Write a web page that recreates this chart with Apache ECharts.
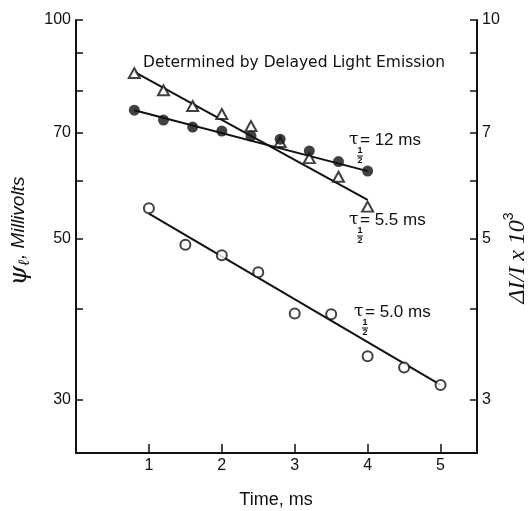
<!DOCTYPE html>
<html>
<head>
<meta charset="utf-8">
<script src="https://cdn.jsdelivr.net/npm/echarts@6/dist/echarts.min.js"></script>
<style>
  html, body { margin: 0; padding: 0; background: #fff; }
  #chart { width: 529px; height: 511px; }
</style>
</head>
<body>
<div id="chart"></div>
<script>
// open triangles (delayed light emission, tau 5.5 ms)
var triTime = [0.8, 1.2, 1.6, 2.0, 2.4, 2.8, 3.2, 3.6, 4.0];
var triValue = [84.5, 80.0, 76.1, 74.2, 71.4, 67.9, 64.5, 60.8, 55.3];
// filled circles (tau 12 ms)
var dotTime = [0.8, 1.2, 1.6, 2.0, 2.4, 2.8, 3.2, 3.6, 4.0];
var dotValue = [75.1, 72.8, 71.2, 70.3, 69.2, 68.5, 66.0, 63.8, 61.9];
// open circles (tau 5.0 ms)
var ringTime = [1.0, 1.5, 2.0, 2.5, 3.0, 3.5, 4.0, 4.5, 5.0];
var ringValue = [55.0, 49.0, 47.4, 44.9, 39.4, 39.3, 34.4, 33.2, 31.4];
// fitted straight lines (end points)
var triFitTime = [0.8, 4.0];
var triFitValue = [84.8, 56.5];
var dotFitTime = [0.8, 4.0];
var dotFitValue = [75.1, 61.9];
var ringFitTime = [1.0, 5.0];
var ringFitValue = [54.1, 31.4];

var xTicks = [1, 2, 3, 4, 5];
var leftTicks = [30, 40, 50, 60, 70, 80, 90, 100];
var leftLabels = [30, 50, 70, 100];
var rightTicks = [3, 4, 5, 6, 7, 8, 9, 10];
var rightLabels = [3, 5, 7, 10];

var ink = "#111";
var numFont = "Liberation Sans";

function pairs(xs, ys) {
  return xs.map(function (x, i) { return [x, ys[i]]; });
}

// tau with a stacked 1/2 subscript, then "= .. ms"
function tauLabel(x, y, txt) {
  return {
    type: "group", x: x, y: y,
    children: [
      { type: "text", x: 0, y: 0, style: { text: "τ", font: "17px 'DejaVu Serif'", fill: ink, align: "left", verticalAlign: "middle" } },
      { type: "text", x: 11, y: 11, style: { text: "1", font: "bold 9px " + numFont, fill: ink, align: "center", verticalAlign: "middle" } },
      { type: "line", shape: { x1: 8, y1: 16, x2: 14, y2: 16 }, style: { stroke: ink, lineWidth: 1 } },
      { type: "text", x: 11, y: 21, style: { text: "2", font: "bold 9px " + numFont, fill: ink, align: "center", verticalAlign: "middle" } },
      { type: "text", x: 11, y: 0, style: { text: txt, font: "17px " + numFont, fill: ink, align: "left", verticalAlign: "middle" } }
    ]
  };
}

var chart = echarts.init(document.getElementById("chart"));

var tickStyle = { color: ink, width: 1.5 };
var labelStyle = { color: ink, fontSize: 16, fontFamily: numFont };

chart.setOption({
  animation: false,
  backgroundColor: "#fff",
  grid: { left: 76, right: 52, top: 20, bottom: 58 },
  xAxis: {
    type: "value", min: 0, max: 5.5,
    axisLine: { show: true, onZero: false, lineStyle: { color: ink, width: 2 } },
    axisTick: { show: true, inside: true, length: 9, customValues: xTicks, lineStyle: tickStyle },
    axisLabel: Object.assign({ customValues: xTicks, margin: 5 }, labelStyle),
    splitLine: { show: false }
  },
  yAxis: [
    {
      type: "log", min: 25.3, max: 100, position: "left",
      axisLine: { show: true, lineStyle: { color: ink, width: 2 } },
      axisTick: { show: true, inside: true, length: 7, customValues: leftTicks, lineStyle: tickStyle },
      axisLabel: Object.assign({ customValues: leftLabels, margin: 5 }, labelStyle),
      minorTick: { show: false },
      splitLine: { show: false }
    },
    {
      type: "log", min: 2.53, max: 10, position: "right",
      axisLine: { show: true, lineStyle: { color: ink, width: 2 } },
      axisTick: { show: true, inside: true, length: 7, customValues: rightTicks, lineStyle: tickStyle },
      axisLabel: Object.assign({ customValues: rightLabels, margin: 5 }, labelStyle),
      minorTick: { show: false },
      splitLine: { show: false }
    }
  ],
  series: [
    { type: "line", data: pairs(triFitTime, triFitValue), symbol: "none", lineStyle: { color: ink, width: 2 }, z: 2 },
    { type: "line", data: pairs(dotFitTime, dotFitValue), symbol: "none", lineStyle: { color: ink, width: 2 }, z: 2 },
    { type: "line", data: pairs(ringFitTime, ringFitValue), symbol: "none", lineStyle: { color: ink, width: 2 }, z: 2 },
    { type: "scatter", data: pairs(triTime, triValue), symbol: "emptyTriangle", symbolSize: [11, 10], itemStyle: { color: ink }, z: 3 },
    { type: "scatter", data: pairs(dotTime, dotValue), symbol: "circle", symbolSize: 11, itemStyle: { color: ink }, z: 4 },
    { type: "scatter", data: pairs(ringTime, ringValue), symbol: "emptyCircle", symbolSize: 10, itemStyle: { color: ink }, z: 3 }
  ],
  graphic: [
    { type: "text", x: 143, y: 63, style: { text: "Determined by Delayed Light Emission", font: "15.5px 'DejaVu Sans'", fill: ink, align: "left", verticalAlign: "middle" } },
    tauLabel(349, 140, "= 12 ms"),
    tauLabel(349, 220, "= 5.5 ms"),
    tauLabel(354, 312, "= 5.0 ms"),
    { type: "text", x: 276, y: 500, style: { text: "Time, ms", font: "18px " + numFont, fill: ink, align: "center", verticalAlign: "middle" } },
    {
      type: "text", x: 19, y: 231, rotation: Math.PI / 2,
      style: {
        text: "{p|ψ}{s|ℓ}{m|, Millivolts}", align: "center", verticalAlign: "middle", fill: ink,
        rich: {
          p: { fontSize: 25, fontStyle: "italic", fontFamily: "DejaVu Serif", lineHeight: 28, verticalAlign: "middle" },
          s: { fontSize: 16, fontStyle: "italic", fontWeight: "bold", fontFamily: "DejaVu Serif", lineHeight: 28, verticalAlign: "bottom" },
          m: { fontSize: 19, fontStyle: "italic", fontFamily: numFont, lineHeight: 28, verticalAlign: "middle" }
        }
      }
    },
    {
      type: "text", x: 516, y: 258, rotation: Math.PI / 2,
      style: {
        text: "{a|ΔI/I x 10}{s|3}", align: "center", verticalAlign: "middle", fill: ink,
        rich: {
          a: { fontSize: 24, fontStyle: "italic", fontFamily: "Liberation Serif", lineHeight: 28, verticalAlign: "bottom" },
          s: { fontSize: 14, fontFamily: "Liberation Sans", lineHeight: 28, verticalAlign: "top" }
        }
      }
    }
  ]
});
</script>
</body>
</html>
